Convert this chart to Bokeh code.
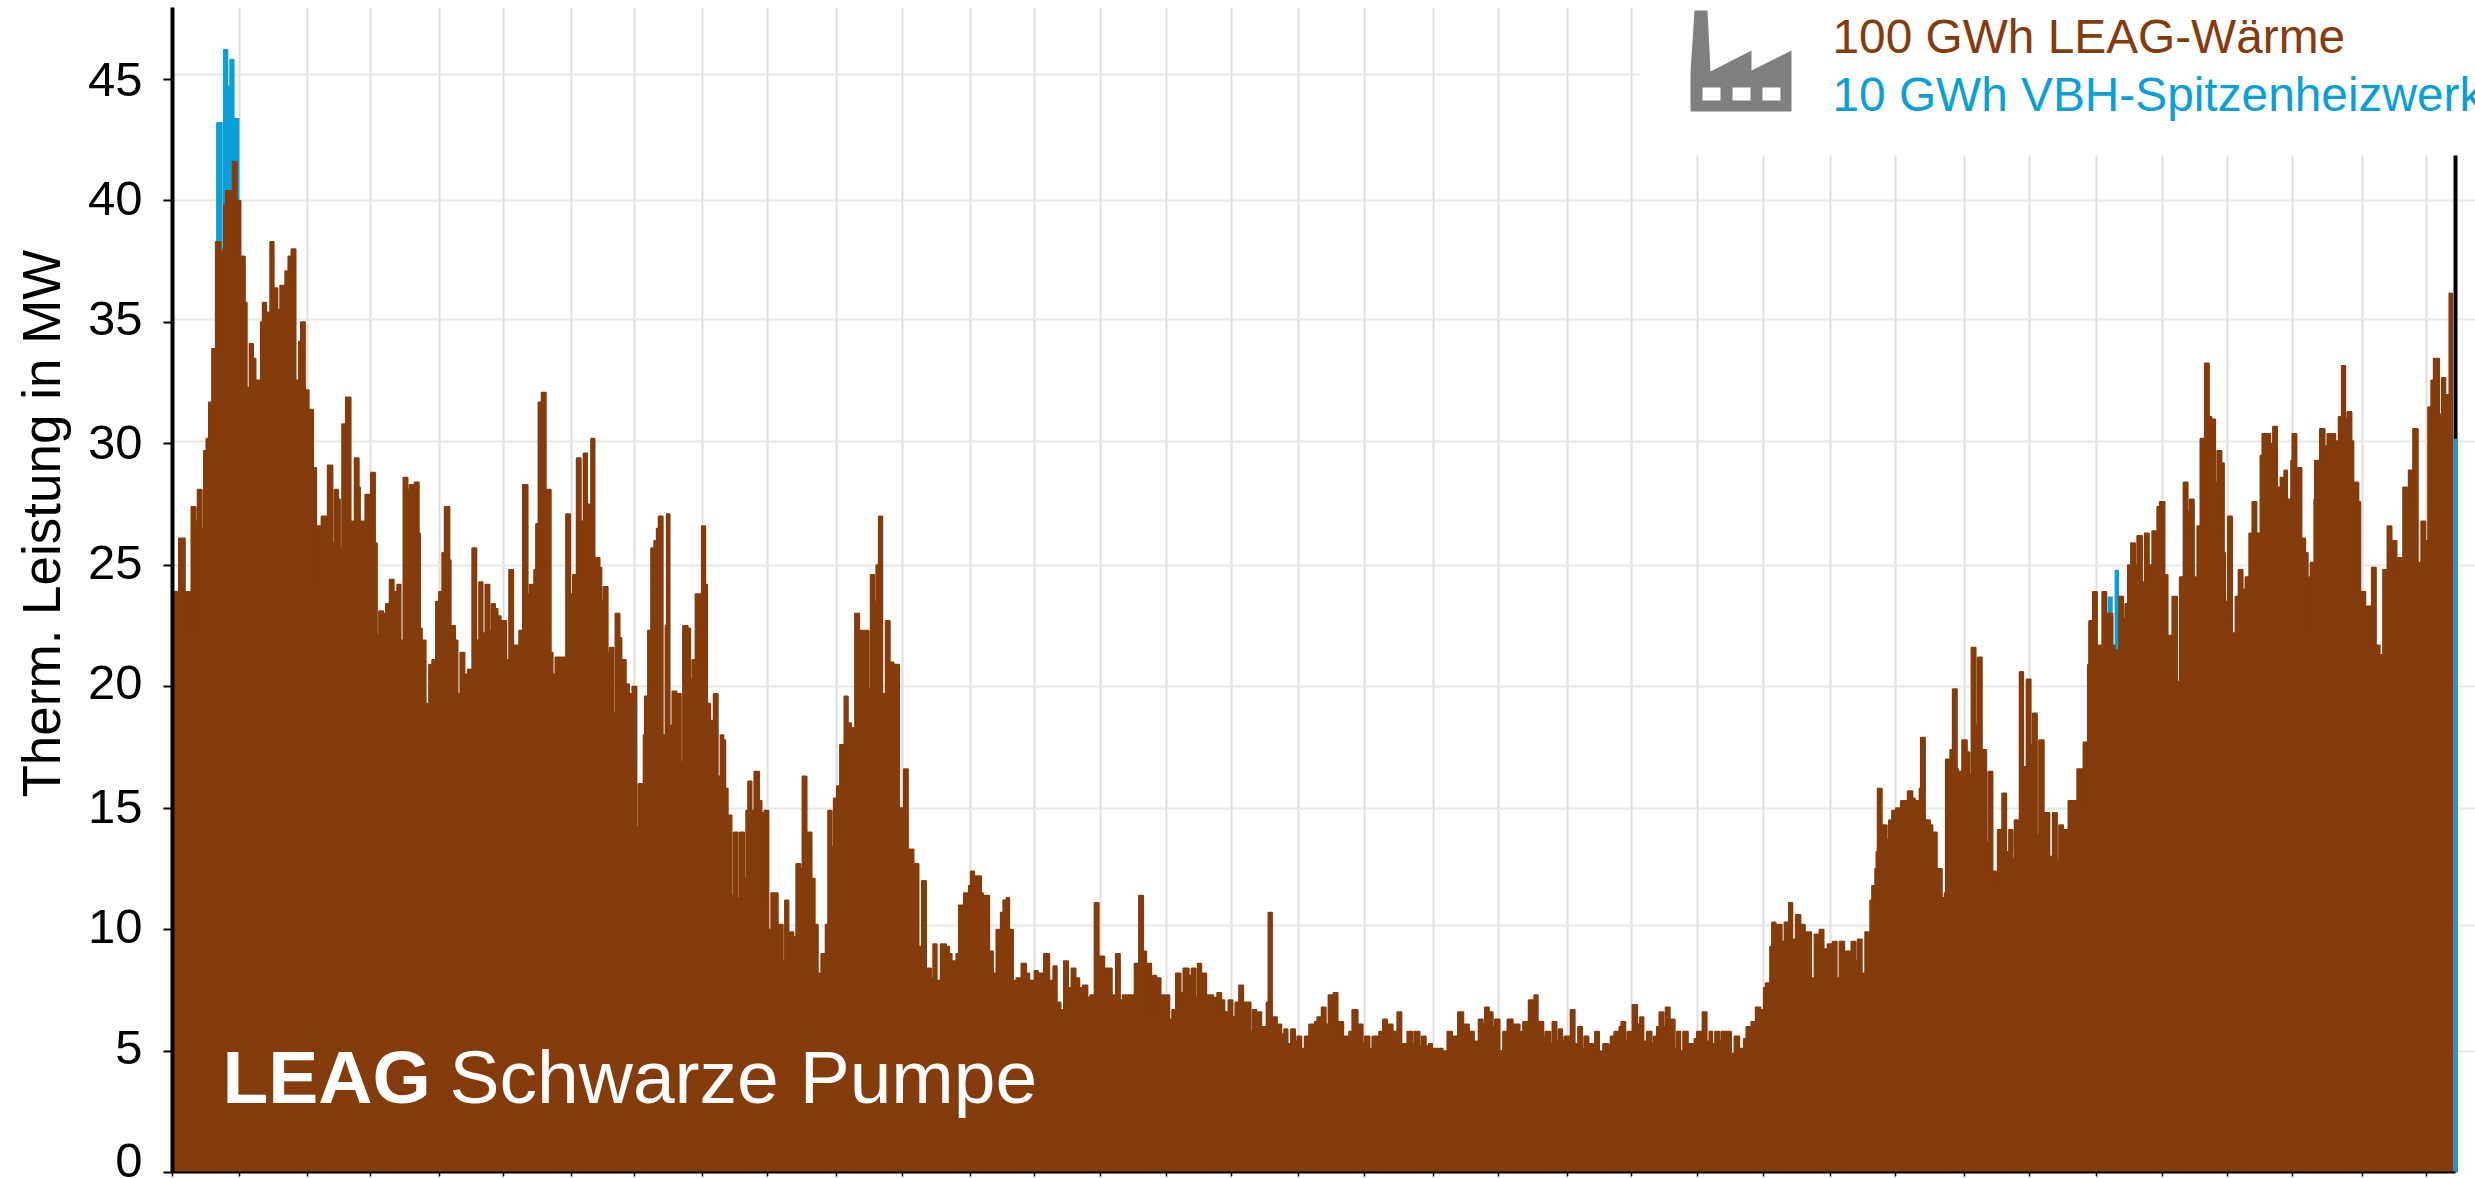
from bokeh.plotting import figure
from bokeh.models import FixedTicker, Label, LinearAxis, Range1d, Title
from bokeh.embed import file_html
from bokeh.resources import INLINE

BROWN = "#843c0c"
BLUE = "#0a9fd6"

# (day of year, MW) pairs: LEAG heat output, each value holds until the next day listed
leag_winter = [
(0,23.9),(1,26.1),(2,23.9),(2.8,22.3),(3,27.4),(3.7,26.8),(4,28.1),(4.7,26.5),(5,29.7),(5.4,30.2),(5.8,31.7),(6.3,33.9),(6.9,38.3),
(7.7,37.9),(8.2,39.8),(8.5,40.4),(9.6,41.6),(10.3,40),(10.9,37.7),(11.6,35.8),(11.9,32.3),(12.3,34.1),(12.9,33.5),(13.3,32.6),(14.1,35),(14.4,35.8),
(15,35.4),(15.6,38.3),(16.2,36.4),(16.8,35.5),(17.2,36.5),(18,37.1),(18.5,37.7),(19,38),(19.7,32.6),(20.2,34.2),(20.5,35),(21.2,32.2),(21.8,31.4),(22.5,29),
(23,26.6),(23.6,24.3),(23.8,27),(24.8,29.1),(25.6,25.9),(25.9,28.1),(26.5,27.7),(26.8,25.7),(27.1,30.8),(27.7,31.9),(28.5,26.8),(29.1,29.4),(29.8,28.2),
(30,26.8),(30.8,27.9),(31.5,26.6),(31.7,28.8),(32.4,25.9),(32.7,22.1),(33,23.1),(33.7,23),(34.1,23.4),(34.7,24.4),(35.4,23.9),(35.9,24.2),(36.5,21.9),
(36.9,28.6),(37.6,28.1),(37.9,28.3),(38.7,28.4),(39.4,26.3),(39.6,22.4),(39.9,21.9),(40.5,19.3),(41,20.9),(41.5,21.1),(42.1,23.5),(42.6,23.9),(43.1,25.5),
(43.5,27.4),(44.3,25.2),(44.5,22.5),(45.2,21.9),(45.6,19.7),(46,21.4),(46.7,20.5),(47.2,20.7),(47.9,25.7),(48.6,21.9),(49,24.3),(49.6,22.2),(50,24.2),
(50.7,22.3),(51,23.4),(51.6,23.2),(52,22.9),(52.5,22.7),(53.4,21.1),(53.8,24.8),(54.5,21.7),(55.4,22.3),(56,28.3),(56.8,23.8),(57.1,24.2),(57.8,24.8),
(58.1,26.7),(58.5,31.7),(59,32.1),(59.7,28.1),(60.5,21.4),(60.8,20.5),(61.2,21.2),(62,21.2),(62.9,27.1),(63.6,23.8),(64,24.6),(64.6,29.4),(65.3,26.8),(65.7,29.6),
(66.3,27.5),(66.9,30.2),(67.5,25.3),(68.3,24.9),(68.6,23.5),(68.9,24.1),(69.6,21.4),(69.9,21.6),(70.5,18.9),(70.8,23),(71.5,22),(71.8,21.1),(72.5,20.1),
(73,19.7),(73.5,20),(74.2,14.2),(74.5,16),(75.3,18),(75.5,19.6),(76,22.3),(76.5,25.7),(77,26),(77.4,26.5),(77.7,27),(78.4,18),(78.8,22.5),(79,27.1),
(79.5,18.4),(79.9,19.8),(80.6,19.7),(81.3,16.9),(81.6,22.5),(82.4,22.4),(82.8,20.3),(83.1,21.1),(83.6,23.8),(84.6,26.6),(85.2,24.2),(85.5,19.3),(86,18.6),
(86.5,19.7),(87.2,16.3),(87.6,18),(88.1,17.8),(88.4,15.8),(88.8,14.7),
]
leag_spring = [
(89.4,11.4),(89.7,14),(90.4,11.3),(90.7,14),(91.4,12.1),(91.7,14.9),(92,16.1),(92.6,14.9),(93,16.5),(93.8,15.3),(94.2,14.8),(94.6,14.9),(95.3,10),(95.7,11.5),
(96.8,10.2),(97.6,8.7),(97.9,11.2),(98.5,9.9),(99.3,9.7),(99.7,12.7),(100.4,12.5),(100.7,16.3),(101.4,14),(102.2,12.1),(102.7,10.2),(103.2,8.2),(103.7,9),
(104.4,10.2),(104.8,14.9),(105.4,13.4),(105.7,15.4),(106.2,15.9),(106.7,17.6),(107.4,19.6),(108,18.5),(108.5,18.3),(109.1,23),(109.8,22.3),(110.4,22.3),
(111.3,19.9),(111.6,24.6),(112.2,23.5),(112.5,25),(112.9,27),(113.5,19.7),(114,22.7),(114.7,21),(115.3,20.9),(116.2,15),(116.9,16.6),(117.6,13.3),(118.5,11.9),
(118.6,12.7),(119.3,9.3),(119.8,12),(120.5,8.4),(121.3,8),(121.6,9.4),(122.2,7.9),(122.8,9.4),(123.7,9.3),(124.2,9),(124.6,8.7),(125.3,9),(125.7,11),(126.5,11.5),
(127.3,11.8),(127.6,12.4),(128.2,12.2),(129.3,11.5),(129.6,11.4),(130.6,9.1),(131.2,8.2),(131.7,10),(132.4,10.7),(132.8,11.2),(133.3,11.3),(133.8,10),(134.4,7.9),
(134.9,8),(135.7,8.6),(136.5,8.2),(137,7.9),(137.8,8.3),(138.4,8.2),(139.3,9),(140.2,7.9),(140.8,8.5),(141.4,7),(142,6.7),(142.5,8.7),(143.2,7.6),(143.7,8.4),
(144.4,8),(145,7.6),(145.5,7.7),(146.3,7.2),(146.7,7.3),(147.4,11.1),(148.1,8.9),(149,8.4),(150.2,7.3),(150.8,9),(151.5,7.1),(151.9,7.3),(153.8,8.6),(154.5,11.4),
(155.2,9.1),(155.7,8.6),(156.5,6.5),(156.7,8.1),(157.3,8),(158,7.3),(159.4,6.3),(159.8,6.7),(160.4,8.2),(161.2,7.4),(161.6,8.4),(162.5,8.1),(162.9,8.4),(163.6,7.2),
(163.9,8.6),(164.5,8.2),(165.3,7.3),(166.4,7.2),(167,7.4),(167.7,7.1),(168.2,6.6),(168.8,7.1),(169.5,6.4),(169.9,7),(170.5,7.7),(171.2,7),(172.4,5.8),(172.7,6.7),
(173.3,6.6),(174.1,6),(174.9,7),(175.2,10.7),(175.8,6.4),(176.6,6.1),(177.3,5.7),(177.7,5.9),(178.3,5.3),(178.8,5.9),(179.5,5.4),(179.8,5.6),
]
leag_summer = [
(180.5,5.1),(181,5.6),(181.7,6.1),(182.6,6.2),(183,6.4),(183.7,6.8),(184.4,6.1),(184.8,7.3),(185.6,7.4),(186.3,6.2),(187.2,5.6),(188.1,5.8),(188.6,6.7),(189.5,6.1),
(190.3,5.3),(190.6,5.6),(191.4,5.1),(191.8,5.6),(192.9,5.8),(193.5,6.3),(194.2,6.1),(195.1,5.8),(195.8,6.6),(196.5,5.3),(197.4,5.8),(198.2,5.3),(198.5,5.8),(199.4,5.2),
(199.7,5.6),(200.4,5.2),(200.8,5.3),(201.4,5.1),(203.1,5),(203.8,5.8),(204.6,5.6),(205.5,6.6),(206.4,5.6),(206.6,6.1),(207.3,5.8),(208.1,5.4),(208.8,6.3),(209.5,6.1),
(209.8,6.8),(210.5,6.6),(211.1,6),(211.4,6.3),(212.2,5),(212.7,5.8),(213.4,6.3),(214.3,6.1),(215.4,5.8),(215.9,6.2),(216.8,7.1),(217.7,7.3),(218.3,6.2),(219.2,5.6),
(219.5,5.8),(220.3,5.3),(220.6,6.2),(221.3,5.4),(221.6,5.9),(222.2,5.4),(222.5,5.6),(223.5,6.7),(224.2,5.3),(224.7,6),(225.4,5.1),(225.7,5.6),(226.4,5.3),(227.4,5.8),
(228.1,5),(228.7,5.3),(229.6,5.2),(229.9,5.6),(230.5,5.8),(231.3,6),(231.6,6.2),(232.3,5.4),(232.6,5.8),(233.4,6.9),(234.2,6.1),(234.6,6.4),(235.2,5.4),(235.7,5.8),
(236.5,5.3),(236.8,5.6),(237.3,6),(237.7,6.6),(238.4,6),(238.7,6.8),(239.4,6.3),(240.2,5.1),(240.5,5.8),(241.1,5),(241.5,5.8),(242.3,5.3),(243.3,5.5),(243.7,5.8),
(244.6,6.6),(245.3,5.4),(245.7,5.8),(246.2,5.3),(246.6,5.8),(247.3,5.4),(247.6,5.8),(249.2,4.9),(249.7,5.6),(250.5,5.1),(251.2,5.5),(251.6,6),(252.4,6.2),(253.1,6.8),
(253.9,6.7),(254.4,7.6),(254.7,7.8),(255.4,9.3),(255.7,10.3),(256.3,10.2),(257.3,9.5),(257.7,10.3),(258.4,11.1),(259,9.6),(259.5,10.6),(260.3,10.2),(261,9.9),(262,8),
(262.5,9.8),(263.3,10),(264,9.2),(264.6,9.4),(265.4,9.5),(266.1,8),(266.5,9.5),(267.3,9.1),(268.4,9.5),(269.1,8.7),(269.4,9.6),(270.1,8.2),(270.6,9.9),(271.4,11.2),
(271.7,11.8),(272.2,12.5),(272.4,13.2),(272.6,15.8),(273.3,14.3),(274.1,13.7),(274.4,14.5),(274.9,14.9),(275.5,15),(276.3,15.3),(277.4,15.7),(278.2,15.4),(278.6,15.3),
(279.3,15.8),(279.5,17.9),(280.2,14.5),(281,14.3),(281.4,14),(282.1,12.5),(282.9,11.3),(283.3,11.5),(283.5,17),(284.2,17.4),(284.6,19.9),
]
leag_autumn = [
(285.3,16.6),(285.5,16.5),(286.1,17.8),(286.9,17.3),(287.3,16.4),(287.6,21.6),(288.3,18.4),(288.6,21.2),(289.3,17.4),(290,13.6),(290.3,16.5),(291,12.4),(291.6,12),
(291.8,14.1),(292.5,15.6),(293.2,13.2),(293.6,14.1),(294.2,12.9),(294.5,14.5),(295.3,20.6),(295.9,16.7),(296.4,20.3),(297.1,17.6),(297.4,18.9),(298.1,13.9),(298.4,17.8),
(299.2,14),(299.4,14.8),(300.1,13),(300.6,14.8),(301.3,12.8),(301.6,14.3),(302.3,14.1),(303.1,15.3),(304.5,16.6),(305.3,15.2),(305.5,17.7),(306.2,20.9),(306.4,22.7),
(307,23.9),(307.7,21.7),(308.5,23.9),(309.2,21.9),(309.4,23),(310.2,21.7),(310.5,21.5),(311.2,23.7),(311.9,22.8),(312.2,23.4),(312.6,25),(313.1,25.9),(313.8,25),
(314.1,26.2),(314.9,24.3),(315.3,26.3),(316,25),(316.5,26.4),(317.3,27.4),(317.7,27.6),(318.5,24.6),(319,22.1),(319.7,23.7),(320.5,20.2),(320.9,24.5),(321.5,28.4),
(322.2,27.2),(322.5,27.7),(323.2,24.5),(323.7,26.6),(324.2,30.2),(324.9,33.3),(325.6,31.1),(326,31),(326.6,28.4),(326.9,29.7),(327.6,29.2),(328,25.5),(328.2,23.5),
(328.6,27),(329.3,22.2),(329.8,23.7),(330.3,24.8),(331,24),(331.4,24.5),(332,26.3),(332.5,27.6),(333.2,26.3),(333.8,29.5),(334.1,30.4),(335.4,30),(335.8,30.7),
(336.5,28.2),(337,28.6),(337.6,28.9),(338.1,27.7),(338.7,29.3),(338.9,30.4),(339.6,29),(340.4,26.1),(341,25.5),(341.4,24.5),(341.6,22.3),(341.8,25.1),(342.4,27.7),
(342.5,29.3),(343.3,30.6),(344.1,29.9),(344.5,30.4),(345.8,30.1),(346.3,31.1),(346.8,33.2),(347.4,31),(347.7,31.3),(348.4,30.1),(348.7,28.4),(349.5,27.6),(349.8,23.9),
(350.6,23.3),(351.6,24.9),(352.3,21.7),(352.9,21.3),(353.4,24.8),(354.1,26.6),(354.8,26),(355.6,24.5),(355.8,25.3),(356.6,28.2),(357.3,27.4),(357.5,28.9),(358.2,30.6),
(359,25.1),(359.5,26.8),(360.2,26),(360.6,31.5),(361.1,32.6),(361.5,33.5),(362.4,31.2),(362.8,32.7),(363.4,32),(364,36.2),(364.6,0),
]
# (day of year, MW) pairs: top of the VBH peak-load plant on the stack
vbh_top = [
(0,0),(7.1,43.2),(7.9,38),(8.2,46.2),(8.8,44.7),(9.2,45.8),(9.8,43.4),(10.7,0),
(309.4,23.7),(310.2,21.5),(310.5,24.8),(311.2,0),(364.75,30.2),(365.25,30.2),
]
y_ticks = [0, 5, 10, 15, 20, 25, 30, 35, 40, 45]
y_label_at = [0.49, 5.14, 10.12, 15.06, 20.16, 25.1, 30.04, 35.14, 40.08, 44.98]
y_grid_at = [5, 10.15, 15, 20, 25, 30.1, 35.1, 40, 45.2]
x_grid_days = [10.7, 21.6, 31.7, 42.7, 52.9, 63.8, 73.9, 84.7, 95.1, 106.2, 116.7, 127.6, 137.8, 148.4,
               158.9, 169.3, 180, 190.6, 201.6, 212, 223, 233.3, 243.8, 254.4, 265.1, 275.5, 286.5,
               296.9, 307.6, 318.2, 328.6, 339, 350.1, 360.4]

PX_DAY = 2283 / 365
PX_MW = 24.3
def dx(px):
    return (px - 172) / PX_DAY
def dy(px):
    return (1172 - px) / PX_MW

p = figure(width=2475, height=1178, output_backend="svg", toolbar_location=None,
           x_range=Range1d(0, 2303 / PX_DAY), y_range=Range1d(0, 1165 / PX_MW),
           min_border_left=172, min_border_right=0, min_border_top=7, min_border_bottom=6)
p.outline_line_color = None
p.background_fill_color = "white"

p.xgrid.ticker = FixedTicker(ticks=x_grid_days)
p.xgrid.grid_line_color = "#dedede"
p.xgrid.grid_line_width = 2
p.ygrid.ticker = FixedTicker(ticks=y_grid_at)
p.ygrid.grid_line_color = "#e8e8e8"
p.ygrid.grid_line_width = 2

ax = p.xaxis[0]
ax.ticker = FixedTicker(ticks=[0] + x_grid_days)
ax.bounds = (0, 365)
ax.axis_line_color = "black"
ax.axis_line_width = 2
ax.major_tick_line_color = "black"
ax.major_tick_line_width = 1.5
ax.major_tick_in = 0
ax.major_tick_out = 4
ax.minor_tick_line_color = None
ax.major_label_text_color = None
ax.major_label_text_font_size = "1px"
ax.major_label_standoff = 0

ay = p.yaxis[0]
ay.ticker = FixedTicker(ticks=y_ticks)
ay.axis_line_color = "black"
ay.axis_line_width = 4
ay.major_tick_line_color = "black"
ay.major_tick_line_width = 2
ay.major_tick_in = 0
ay.major_tick_out = 9
ay.minor_tick_line_color = None
ay.major_label_text_color = None
ay.major_label_text_font_size = "1px"
ay.major_label_standoff = 0

labels_axis = LinearAxis(
    ticker=FixedTicker(ticks=y_label_at),
    major_label_overrides={at: str(t) for at, t in zip(y_label_at, y_ticks)},
    axis_line_color=None, major_tick_line_color=None, minor_tick_line_color=None,
    major_label_text_font="Liberation Sans", major_label_text_font_size="49px",
    major_label_text_color="black", major_label_standoff=15,
)
p.add_layout(labels_axis, "left")

# y axis title, started at the same place as in the reference
p.add_layout(Title(text="Therm. Leistung in MW", align="left", offset=375, standoff=23,
                   vertical_align="top",
                   text_font="Liberation Sans", text_font_size="53px",
                   text_font_style="normal", text_color="black"), "left")

# white box behind the legend
p.quad(left=[dx(1639)], right=[dx(2480)], bottom=[dy(155)], top=[dy(0)], fill_color="white", line_color=None)

# right-hand axis line
p.segment(x0=[365], y0=[0], x1=[365], y1=[dy(155)], line_color="black", line_width=4)

# blue below, brown above
bd = [a for a, _ in vbh_top]
bv = [b for _, b in vbh_top]
p.varea_step(x=bd, y1=[0] * len(bd), y2=bv, step_mode="after", fill_color=BLUE)
p.step(x=bd[:7], y=bv[:7], mode="after", line_color=BLUE, line_width=1.6)

leag = leag_winter + leag_spring + leag_summer + leag_autumn
ld = [a for a, _ in leag]
lv = [b for _, b in leag]
p.varea_step(x=ld, y1=[0] * len(ld), y2=lv, step_mode="after", fill_color=BROWN)
p.step(x=ld[:-1], y=lv[:-1], mode="after", line_color=BROWN, line_width=1.6)

def text(txt, x, y, size, color, style="normal"):
    p.add_layout(Label(x=x, y=y, text=txt, text_font="Liberation Sans", text_font_size=size,
                       text_color=color, text_font_style=style,
                       text_align="left", text_baseline="alphabetic"))

text("LEAG", dx(222), dy(1076), "75px", "white", style="bold")
text("Schwarze Pumpe", dx(449), dy(1076), "75px", "white")
text("100 GWh LEAG-Wärme", dx(1832), dy(36), "47.8px", BROWN)
text("10 GWh VBH-Spitzenheizwerk", dx(1832), dy(94), "47.8px", BLUE)

# factory icon
ix = [1694, 1707, 1710, 1751, 1751, 1791, 1791, 1690, 1690]
iy = [10, 10, 71, 50, 70, 50, 111, 111, 72]
p.patch([dx(v) for v in ix], [dy(v) for v in iy], fill_color="#7f7f7f", line_color=None)
wx = [1702, 1732, 1762]
p.quad(left=[dx(v) for v in wx], right=[dx(v + 18) for v in wx],
       bottom=[dy(100)] * 3, top=[dy(87)] * 3, fill_color="white", line_color=None)

open("out.html", "w").write(file_html(p, INLINE))
